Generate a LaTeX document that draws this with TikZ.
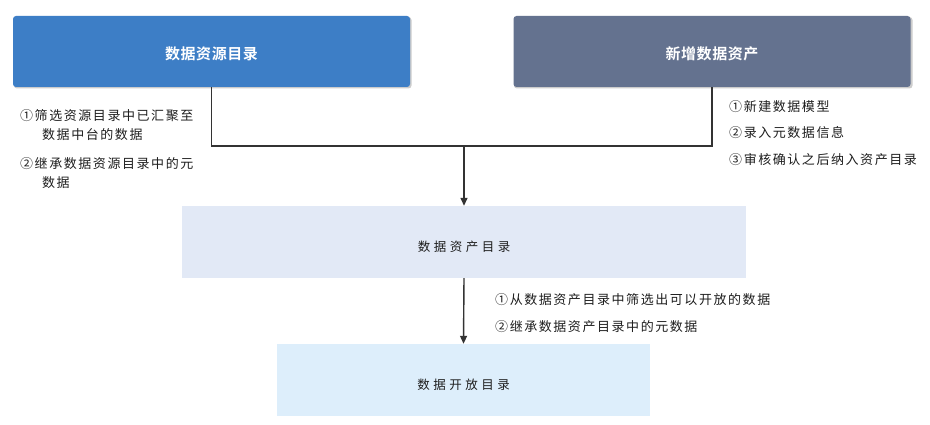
\documentclass[tikz,border=0pt]{standalone}
\usepackage{fontspec}
\newfontfamily\cjk[LetterSpace=12]{Noto Sans CJK SC}
\newfontfamily\cjkb[LetterSpace=4]{Noto Sans CJK SC Bold}
\usetikzlibrary{arrows.meta}
\definecolor{boxA}{HTML}{3D7EC6}
\definecolor{boxB}{HTML}{64728F}
\definecolor{boxC}{HTML}{E2E9F6}
\definecolor{boxD}{HTML}{DDEEFB}
\definecolor{lineC}{HTML}{333333}
\definecolor{txt}{HTML}{1E1E1E}
\newcommand\lowtext[1]{\raisebox{-9.5pt}[0pt][0pt]{#1}}
\newcommand\toptext[1]{\raisebox{-8.5pt}[0pt][0pt]{#1}}
\tikzset{
  topbox/.style={minimum width=397pt, minimum height=71pt, rounded corners=3pt, text=white, font=\cjkb\fontsize{15}{17}\selectfont, inner sep=0pt},
  lowbox/.style={inner sep=0pt, text=txt, font=\cjk\fontsize{12.5}{15}\selectfont},
  lbl/.style={anchor=west, inner sep=0pt, text=txt, font=\cjk\fontsize{13}{15}\selectfont},
  conn/.style={draw=lineC, line width=1.4pt},
  arr/.style={conn, -{Triangle[length=8pt,width=7pt]}}
}
\begin{document}
\begin{tikzpicture}[x=1pt,y=-1pt]
\useasboundingbox[fill=white] (0,0) rectangle (930,425);
\fill[black!20, rounded corners=3pt] (14,17) rectangle (411.5,88.5);
\fill[black!20, rounded corners=3pt] (514,17) rectangle (912.5,88.5);
\node[topbox, fill=boxA] (A) at (211.5,51.5) {\toptext{数据资源目录}};
\node[topbox, fill=boxB] (B) at (712,51.5) {\toptext{新增数据资产}};
\node[lowbox, fill=boxC, minimum width=564pt, minimum height=72pt] (C) at (464,242) {\lowtext{数\hspace{3.5pt}据\hspace{3.5pt}资\hspace{3.5pt}产\hspace{3.5pt}目\hspace{3.5pt}录}};
\node[lowbox, fill=boxD, minimum width=373pt, minimum height=72pt] (D) at (463.5,380) {\lowtext{数\hspace{3.5pt}据\hspace{3.5pt}开\hspace{3.5pt}放\hspace{3.5pt}目\hspace{3.5pt}录}};
\coordinate (j) at (464,146);
\draw[conn] (A.south) |- (j) -| (B.south);
\draw[arr] (j) -- (C.north);
\draw[arr] (C.south) -- (D.north);
\node[lbl] (l1) at (20,116) {①筛选资源目录中已汇聚至};
\node[lbl] (l2) at (42,135) {数据中台的数据};
\node[lbl] (l3) at (20,164) {②继承数据资源目录中的元};
\node[lbl] (l4) at (42,183) {数据};
\node[lbl] (r1) at (729,107) {①新建数据模型};
\node[lbl] (r2) at (729,133) {②录入元数据信息};
\node[lbl] (r3) at (729,160) {③审核确认之后纳入资产目录};
\node[lbl] (m1) at (495,300) {①从数据资产目录中筛选出可以开放的数据};
\node[lbl] (m2) at (495,327) {②继承数据资产目录中的元数据};
\end{tikzpicture}
\end{document}
